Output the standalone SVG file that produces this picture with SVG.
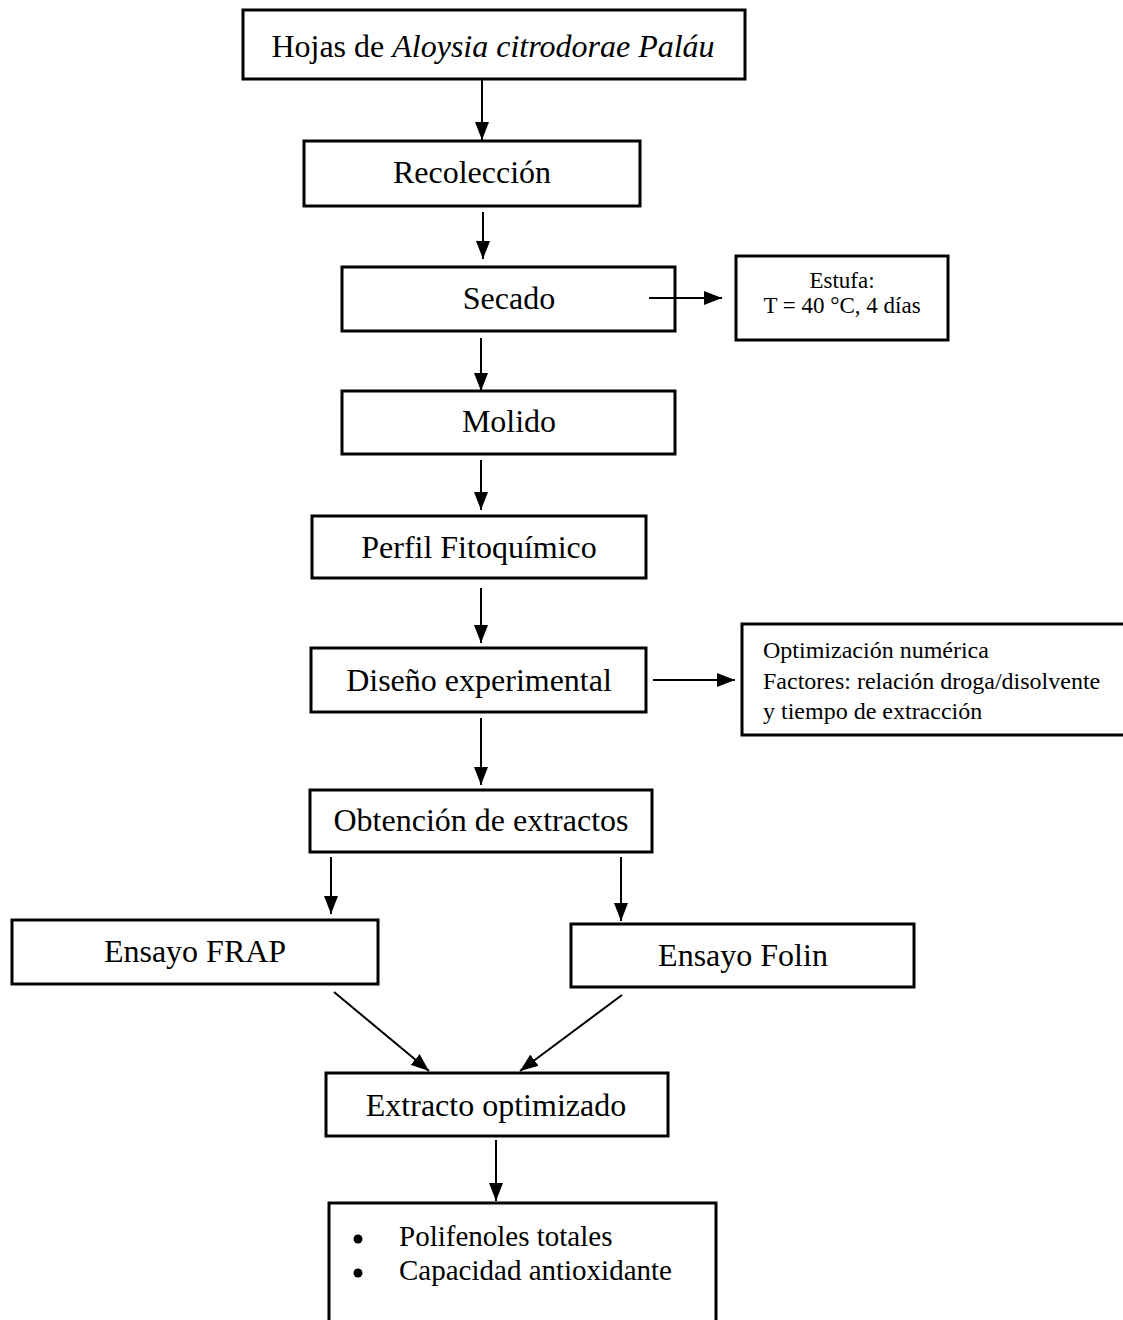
<svg xmlns="http://www.w3.org/2000/svg" width="1123" height="1320" viewBox="0 0 1123 1320">
<defs>
<style>
.box{fill:#fff;stroke:#000;stroke-width:3}
.t{font-family:"Liberation Serif","Times New Roman",serif;fill:#000;text-anchor:middle;dominant-baseline:central}
.big{font-size:32px}
.sm{font-size:23px}
.md{font-size:24px}
.li{font-size:29px}
.l{text-anchor:start}
.c{stroke:#000;stroke-width:2;fill:none}
</style>
<marker id="a" viewBox="0 0 18 14" refX="18" refY="7" markerWidth="18" markerHeight="14" markerUnits="userSpaceOnUse" orient="auto">
<path d="M0,0 L18,7 L0,14 z" fill="#000"/>
</marker>
</defs>
<g id="hojas">
<rect class="box" x="243" y="10" width="502" height="69"/>
<text class="t big" x="493" y="46">Hojas de <tspan font-style="italic">Aloysia citrodorae Paláu</tspan></text>
</g>
<g id="recoleccion">
<rect class="box" x="304" y="141" width="336" height="65"/>
<text class="t big" x="472" y="172">Recolección</text>
</g>
<g id="secado">
<rect class="box" x="342" y="267" width="333" height="64"/>
<text class="t big" x="509" y="298">Secado</text>
</g>
<g id="estufa">
<rect class="box" x="736" y="256" width="212" height="84"/>
<text class="t sm" x="842" y="280">Estufa:</text>
<text class="t sm" x="842" y="305">T = 40 °C, 4 días</text>
</g>
<g id="molido">
<rect class="box" x="342" y="391" width="333" height="63"/>
<text class="t big" x="509" y="421">Molido</text>
</g>
<g id="perfil">
<rect class="box" x="312" y="516" width="334" height="62"/>
<text class="t big" x="479" y="547">Perfil Fitoquímico</text>
</g>
<g id="diseno">
<rect class="box" x="311" y="648" width="335" height="64"/>
<text class="t big" x="479" y="680">Diseño experimental</text>
</g>
<g id="optimizacion">
<rect class="box" x="742" y="624" width="385" height="111"/>
<text class="t md l" x="763" y="650">Optimización numérica</text>
<text class="t md l" x="763" y="681">Factores: relación droga/disolvente</text>
<text class="t md l" x="763" y="711">y tiempo de extracción</text>
</g>
<g id="obtencion">
<rect class="box" x="310" y="790" width="342" height="62"/>
<text class="t big" x="481" y="820">Obtención de extractos</text>
</g>
<g id="frap">
<rect class="box" x="12" y="920" width="366" height="64"/>
<text class="t big" x="195" y="951">Ensayo FRAP</text>
</g>
<g id="folin">
<rect class="box" x="571" y="924" width="343" height="63"/>
<text class="t big" x="743" y="955">Ensayo Folin</text>
</g>
<g id="extracto">
<rect class="box" x="326" y="1073" width="342" height="63"/>
<text class="t big" x="496" y="1105">Extracto optimizado</text>
</g>
<g id="resultados">
<rect class="box" x="329" y="1203" width="387" height="125"/>
<circle cx="358" cy="1239" r="4.5"/>
<circle cx="358" cy="1273" r="4.5"/>
<text class="t li l" x="399" y="1236">Polifenoles totales</text>
<text class="t li l" x="399" y="1270">Capacidad antioxidante</text>
</g>
<g id="connectors">
<line class="c" x1="482" y1="80" x2="482" y2="140" marker-end="url(#a)"/>
<line class="c" x1="483" y1="212" x2="483" y2="259" marker-end="url(#a)"/>
<line class="c" x1="649" y1="298" x2="722" y2="298" marker-end="url(#a)"/>
<line class="c" x1="481" y1="338" x2="481" y2="391" marker-end="url(#a)"/>
<line class="c" x1="481" y1="460" x2="481" y2="510" marker-end="url(#a)"/>
<line class="c" x1="481" y1="588" x2="481" y2="643" marker-end="url(#a)"/>
<line class="c" x1="653" y1="680" x2="735" y2="680" marker-end="url(#a)"/>
<line class="c" x1="481" y1="718" x2="481" y2="785" marker-end="url(#a)"/>
<line class="c" x1="331" y1="857" x2="331" y2="914" marker-end="url(#a)"/>
<line class="c" x1="621" y1="857" x2="621" y2="921" marker-end="url(#a)"/>
<line class="c" x1="334" y1="992" x2="429" y2="1071" marker-end="url(#a)"/>
<line class="c" x1="622" y1="995" x2="520" y2="1071" marker-end="url(#a)"/>
<line class="c" x1="496" y1="1140" x2="496" y2="1201" marker-end="url(#a)"/>
</g>
</svg>
